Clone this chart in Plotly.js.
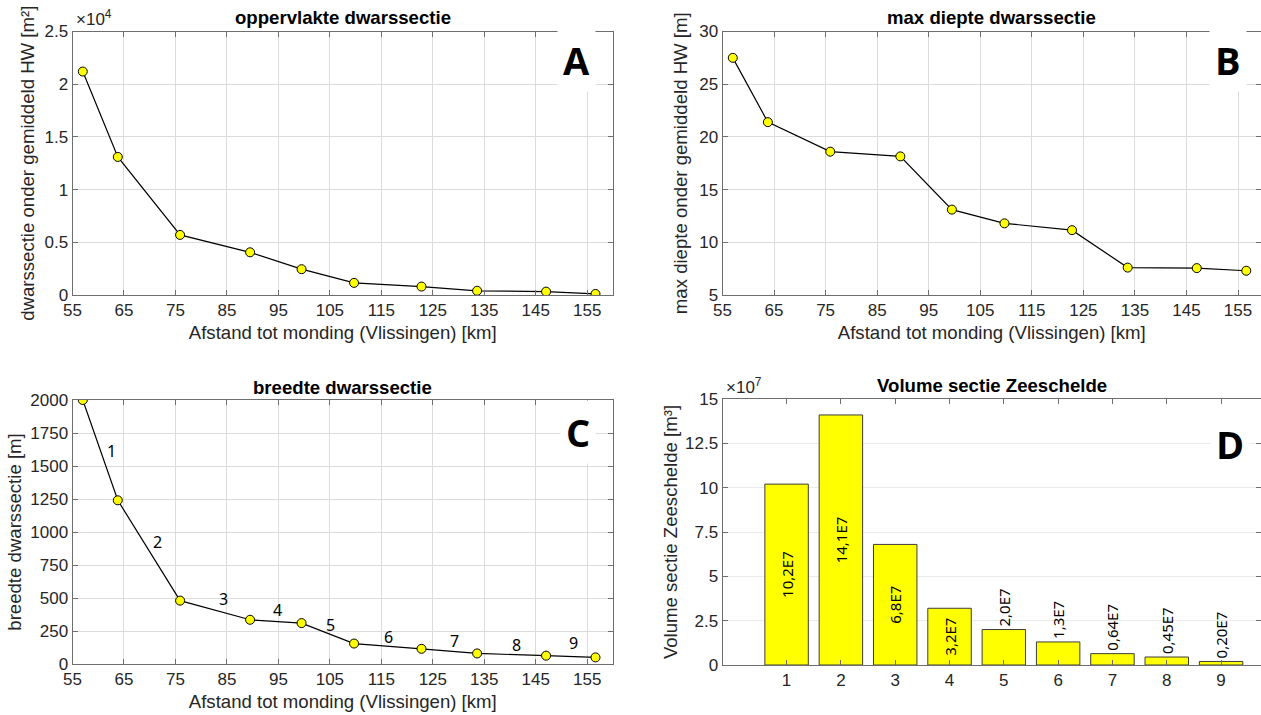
<!DOCTYPE html>
<html>
<head>
<meta charset="utf-8">
<script src="https://cdn.plot.ly/plotly-3.0.1.min.js"></script>
<style>html,body{margin:0;padding:0;background:#fff;}#chart{width:1261px;height:715px;}</style>
</head>
<body>
<div id="chart"></div>
<script>
// ---- data ----
const afstandKm = [57, 63.8, 75.9, 89.5, 99.5, 109.7, 122.8, 133.6, 147, 156.6];
const oppervlakte = [21200, 13100, 5700, 4050, 2450, 1150, 800, 400, 320, 100];
const maxDiepte = [27.5, 21.4, 18.6, 18.15, 13.1, 11.8, 11.15, 7.6, 7.55, 7.3];
const breedte = [2000, 1240, 480, 335, 310, 155, 115, 80, 63, 50];
const secties = ['1', '2', '3', '4', '5', '6', '7', '8', '9'];
const volume = [10.2e7, 14.1e7, 6.8e7, 3.2e7, 2.0e7, 1.3e7, 0.64e7, 0.45e7, 0.20e7];
const volumeLabels = ['10,2E7', '14,1E7', '6,8E7', '3,2E7', '2,0E7', '1,3E7', '0,64E7', '0,45E7', '0,20E7'];
const yTicksA = [0, 0.5, 1, 1.5, 2, 2.5];
const yTicksD = [0, 2.5, 5, 7.5, 10, 12.5, 15];

// ---- style ----
const W = 1261, H = 715;
const FONT = 'Liberation Sans, Arial, sans-serif';
const TXT = '#262626';
const AXC = '#6e6e6e';
const GRID = '#dcdcdc';
const TICKSIZE = 17, LABELSIZE = 18.6;
function px(x) { return x / W; }
function py(y) { return 1 - y / H; }

function axis(extra) {
  return Object.assign({
    showline: true, linecolor: AXC, linewidth: 1, mirror: 'ticks',
    ticks: 'inside', ticklen: 5, tickcolor: AXC, tickwidth: 1,
    showgrid: true, gridcolor: GRID, gridwidth: 1, zeroline: false,
    tickfont: { family: FONT, size: TICKSIZE, color: TXT },
    fixedrange: true
  }, extra);
}
function atitle(t, s) { return { text: t, font: { family: FONT, size: LABELSIZE, color: TXT }, standoff: s }; }

const lineStyle = { color: '#000', width: 1.2 };
const markerStyle = { color: '#ffff00', size: 9, line: { color: '#000', width: 1 } };

const traces = [
  { x: afstandKm, y: oppervlakte, type: 'scatter', mode: 'lines+markers', xaxis: 'x', yaxis: 'y',
    line: lineStyle, marker: markerStyle, showlegend: false },
  { x: afstandKm, y: maxDiepte, type: 'scatter', mode: 'lines+markers', xaxis: 'x2', yaxis: 'y2',
    line: lineStyle, marker: markerStyle, showlegend: false },
  { x: afstandKm, y: breedte, type: 'scatter', mode: 'lines+markers', xaxis: 'x3', yaxis: 'y3',
    line: lineStyle, marker: markerStyle, showlegend: false },
  { x: secties.map(Number), y: volume, type: 'bar', xaxis: 'x4', yaxis: 'y4', width: 0.8,
    marker: { color: '#ffff00', line: { color: '#3c3c3c', width: 1 } },
    text: volumeLabels, textangle: -90,
    textposition: volume.map(v => v >= 3e7 ? 'inside' : 'outside'),
    insidetextanchor: 'middle', constraintext: 'none', cliponaxis: false,
    textfont: { family: 'Noto Sans, sans-serif', size: 15, color: '#000' },
    showlegend: false }
];

// domains (pixel based)
const domAx = [px(72.5), px(613)];
const domBx = [px(722.5), 1];
const domTop = [py(295), py(31.5)];
const domBot = [py(664), py(400)];

const annotations = [];
function title(t, xref, yPix) {
  annotations.push({ text: '<b>' + t + '</b>', xref: xref + ' domain', x: 0.5, yref: 'paper', y: py(yPix),
    showarrow: false, xanchor: 'center', yanchor: 'middle', font: { family: FONT, size: LABELSIZE, color: '#000' } });
}
title('oppervlakte dwarssectie', 'x', 18);
title('max diepte dwarssectie', 'x2', 18);
title('breedte dwarssectie', 'x3', 387);
title('Volume sectie Zeeschelde', 'x4', 386);

function letter(t, xref, yref, xf, yf) {
  annotations.push({ text: '<b>' + t + '</b>', xref: xref + ' domain', yref: yref + ' domain', x: xf, y: yf,
    showarrow: false, xanchor: 'center', yanchor: 'middle', bgcolor: '#ffffff', borderpad: 5,
    font: { family: 'Open Sans, sans-serif', size: 38, color: '#000' } });
}
letter('A', 'x', 'y', 0.933, 0.892);
letter('B', 'x2', 'y2', 0.939, 0.892);
letter('C', 'x3', 'y3', 0.935, 0.879);
letter('D', 'x4', 'y4', 0.942, 0.831);

function expo(p, xref, yref) {
  annotations.push({ text: '\u00d710<sup>' + p + '</sup>', xref: xref + ' domain', yref: yref + ' domain',
    x: 0.003, y: 1.0, xanchor: 'left', yanchor: 'bottom', showarrow: false,
    font: { family: FONT, size: TICKSIZE, color: TXT } });
}
expo(4, 'x', 'y');
expo(7, 'x4', 'y4');

// segment numbers in panel C, at segment midpoints
const segShift = [[11, -1], [9, 8], [8, 11], [2, 11], [3, 8], [1, 9], [5, 10], [5, 10], [3, 14]];
secties.forEach((s, i) => {
  annotations.push({ text: s, xref: 'x3', yref: 'y3',
    x: (afstandKm[i] + afstandKm[i + 1]) / 2, y: (breedte[i] + breedte[i + 1]) / 2,
    xshift: segShift[i][0], yshift: segShift[i][1], showarrow: false,
    font: { family: 'Noto Sans, sans-serif', size: 16, color: '#000' } });
});

const layout = {
  width: W, height: H,
  margin: { l: 0, r: 0, t: 0, b: 0 },
  paper_bgcolor: '#fff', plot_bgcolor: '#fff',
  showlegend: false,
  xaxis: axis({ domain: domAx, anchor: 'y', range: [55, 160], tick0: 55, dtick: 10,
    title: atitle('Afstand tot monding (Vlissingen) [km]', 6) }),
  yaxis: axis({ domain: domTop, anchor: 'x', range: [0, 25000],
    tickvals: yTicksA.map(v => v * 1e4), ticktext: yTicksA.map(String),
    title: atitle('dwarssectie onder gemiddeld HW [m\u00b2]', 4) }),
  xaxis2: axis({ domain: domBx, anchor: 'y2', range: [55, 159.46], tick0: 55, dtick: 10,
    title: atitle('Afstand tot monding (Vlissingen) [km]', 6) }),
  yaxis2: axis({ domain: domTop, anchor: 'x2', range: [5, 30], dtick: 5,
    title: atitle('max diepte onder gemiddeld HW [m]', 6) }),
  xaxis3: axis({ domain: domAx, anchor: 'y3', range: [55, 160], tick0: 55, dtick: 10,
    title: atitle('Afstand tot monding (Vlissingen) [km]', 6) }),
  yaxis3: axis({ domain: domBot, anchor: 'x3', range: [0, 2000], dtick: 250,
    title: atitle('breedte dwarssectie [m]', 3) }),
  xaxis4: axis({ domain: domBx, anchor: 'y4', range: [-0.18, 9.735], tickvals: secties.map(Number),
    ticktext: secties, showgrid: false }),
  yaxis4: axis({ domain: [py(665), py(399)], anchor: 'x4', range: [0, 15e7],
    tickvals: yTicksD.map(v => v * 1e7), ticktext: yTicksD.map(String), gridcolor: '#ebebeb',
    title: atitle('Volume sectie Zeeschelde [m\u00b3]', 2) }),
  annotations: annotations
};

Plotly.newPlot('chart', traces, layout, { displayModeBar: false, staticPlot: true });
</script>
</body>
</html>
